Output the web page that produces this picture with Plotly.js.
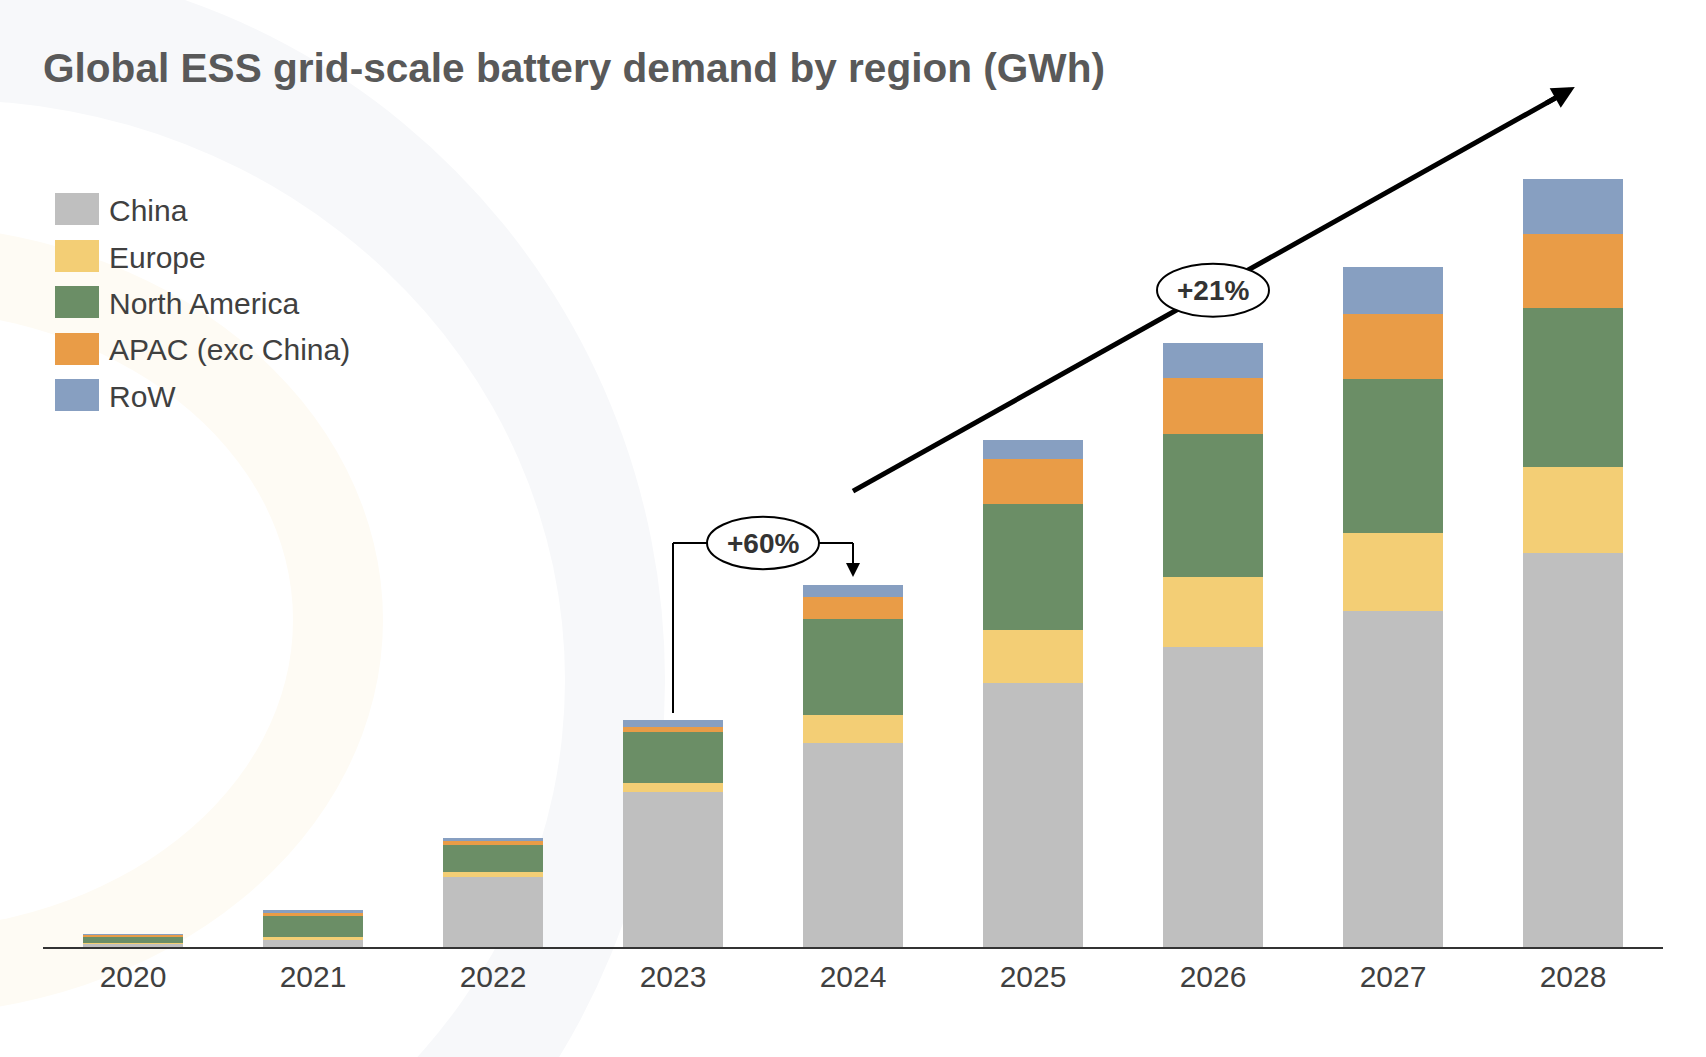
<!DOCTYPE html>
<html>
<head>
<meta charset="utf-8">
<script src="https://cdn.plot.ly/plotly-3.0.1.min.js"></script>
<style>html,body{margin:0;padding:0;background:#fff;}#chart{width:1706px;height:1057px;}</style>
</head>
<body>
<div id="chart"></div>
<script>
// ---- data (GWh) ----
const years = ['2020','2021','2022','2023','2024','2025','2026','2027','2028'];
const seriesNames = ['China','Europe','North America','APAC (exc China)','RoW'];
const china        = [2.4, 5.7, 57.0, 126.3, 166.3, 215.2, 244.5, 273.8, 321.1];
const europe       = [0.8, 2.4, 4.1, 7.3, 22.8, 43.2, 57.1, 63.6, 70.1];
const northAmerica = [4.9, 17.1, 22.0, 41.6, 78.2, 102.7, 116.5, 125.5, 129.6];
const apac         = [1.6, 2.4, 3.3, 4.1, 17.9, 36.7, 45.6, 53.0, 60.3];
const row          = [0.8, 2.4, 2.4, 5.7, 9.8, 15.5, 28.5, 38.3, 44.8];
const growthLabels = ['+60%', '+21%'];
const titleText = 'Global ESS grid-scale battery demand by region (GWh)';

const colors = ['#bfbfbf', '#f3ce75', '#6b8e66', '#e99c47', '#879fc1'];
const values = [china, europe, northAmerica, apac, row];

const FONT = 'Liberation Sans, Arial, sans-serif';
const W = 1706, H = 1057, L = 43, R = 1663, T = 60, B = 947;
const px2x = p => (p - L) / (R - L);
const px2y = p => (B - p) / (B - T);

const traces = seriesNames.map((n, i) => ({
  type: 'bar', name: n, x: years, y: values[i],
  marker: {color: colors[i], line: {width: 0}},
  showlegend: false, hoverinfo: 'x+y+name'
}));

const shapes = [];
// faint decorative background arcs
function ell(cx, cy, a, b, fill) {
  shapes.push({type: 'circle', xref: 'paper', yref: 'paper', layer: 'below',
    x0: px2x(cx - a), x1: px2x(cx + a), y0: px2y(cy + b), y1: px2y(cy - b),
    fillcolor: fill, line: {width: 0}});
}
ell(-50, 680, 715, 720, '#f7f8fa');
ell(-50, 680, 615, 580, '#ffffff');
ell(-100, 620, 483, 395, '#fefbf4');
ell(-100, 620, 393, 310, '#ffffff');

// custom legend
const annotations = [];
const legY = [209, 256, 302, 349, 395];
seriesNames.forEach((n, i) => {
  shapes.push({type: 'rect', xref: 'paper', yref: 'paper', layer: 'above',
    x0: px2x(55), x1: px2x(99), y0: px2y(legY[i] + 16), y1: px2y(legY[i] - 16),
    fillcolor: colors[i], line: {width: 0}});
  annotations.push({xref: 'paper', yref: 'paper', x: px2x(107), y: px2y(legY[i] + 1),
    xanchor: 'left', yanchor: 'middle', showarrow: false, text: n,
    font: {family: FONT, size: 30, color: '#404040'}});
});

// +60% bracket
const blk = {color: '#000', width: 2};
shapes.push({type: 'line', xref: 'x', yref: 'y', x0: 3, x1: 3, y0: 190.7, y1: 329.3, line: blk});
shapes.push({type: 'line', xref: 'x', yref: 'y', x0: 3, x1: 4, y0: 329.3, y1: 329.3, line: blk});
shapes.push({type: 'line', xref: 'x', yref: 'y', x0: 4, x1: 4, y0: 329.3, y1: 310, line: blk});
shapes.push({type: 'circle', xref: 'x', yref: 'y', x0: 3.189, x1: 3.811, y0: 308.0, y1: 350.6,
  fillcolor: '#fff', line: blk});
annotations.push({xref: 'x', yref: 'y', x: 4, y: 301.5, ax: 0, ay: -24, text: '',
  showarrow: true, arrowhead: 2, arrowsize: 1.4, arrowwidth: 2, arrowcolor: '#000', standoff: 0});
annotations.push({xref: 'x', yref: 'y', x: 3.5, y: 329.3, text: '<b>' + growthLabels[0] + '</b>',
  showarrow: false, font: {family: FONT, size: 28, color: '#333'}});

// +21% trend arrow
shapes.push({type: 'line', xref: 'x', yref: 'y', x0: 4.0, y0: 371.6, x1: 7.963, y1: 697.0,
  line: {color: '#000', width: 5}});
shapes.push({type: 'circle', xref: 'x', yref: 'y', x0: 5.689, x1: 6.311, y0: 513.8, y1: 557.0,
  fillcolor: '#fff', line: blk});
annotations.push({xref: 'x', yref: 'y', x: 8.01, y: 701, ax: -30, ay: 17, text: '',
  showarrow: true, arrowhead: 2, arrowsize: 0.9, arrowwidth: 5, arrowcolor: '#000', standoff: 0});
annotations.push({xref: 'x', yref: 'y', x: 6, y: 535.4, text: '<b>' + growthLabels[1] + '</b>',
  showarrow: false, font: {family: FONT, size: 28, color: '#333'}});

const layout = {
  width: W, height: H,
  margin: {l: L, r: W - R, t: T, b: H - B, pad: 0},
  paper_bgcolor: '#ffffff', plot_bgcolor: 'rgba(0,0,0,0)',
  barmode: 'stack', bargap: 0.444,
  title: {text: '<b>' + titleText + '</b>', xref: 'paper', x: 0, xanchor: 'left',
    yref: 'container', y: 1 - 68 / H, yanchor: 'middle',
    font: {family: FONT, size: 40.6, color: '#595959'}},
  xaxis: {type: 'category', range: [-0.5, 8.5], showgrid: false, zeroline: false,
    showline: true, linecolor: '#333', linewidth: 2, ticks: '',
    tickfont: {family: FONT, size: 30, color: '#404040'}, ticklabelstandoff: 2, fixedrange: true},
  yaxis: {range: [0, 723], visible: false, showgrid: false, zeroline: false, fixedrange: true},
  shapes: shapes, annotations: annotations,
  font: {family: FONT}
};

Plotly.newPlot('chart', traces, layout, {displayModeBar: false, staticPlot: true});
</script>
</body>
</html>
